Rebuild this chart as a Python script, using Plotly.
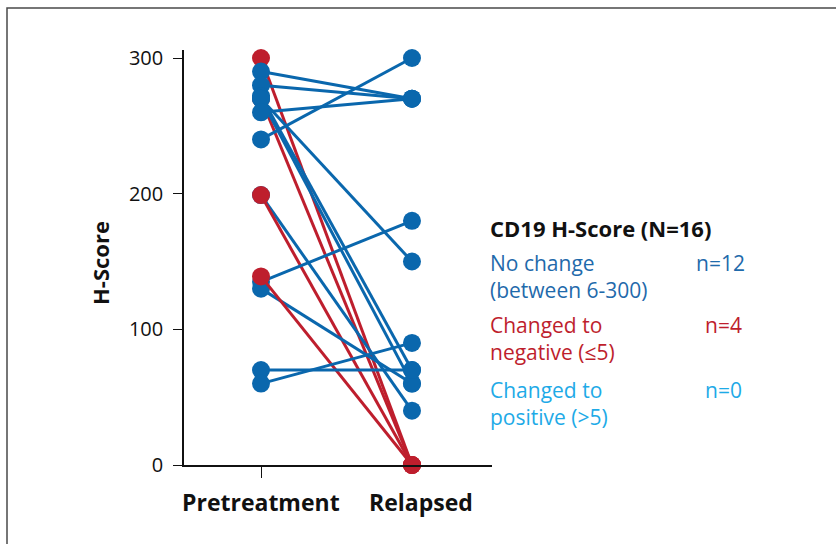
import plotly.graph_objects as go

# CD19 H-Score per patient, before treatment and at relapse
categories = ["Pretreatment", "Relapsed"]
pre_scores = [300, 270, 290, 280, 272, 270, 270, 260, 240, 199, 199, 135, 130, 139, 70, 60]
relapse_scores = [0, 0, 270, 270, 70, 150, 60, 270, 300, 40, 0, 180, 60, 0, 70, 90]
groups = ["neg", "neg", "nc", "nc", "nc", "nc", "nc", "nc", "nc", "nc", "neg", "nc", "nc", "neg", "nc", "nc"]
y_ticks = [0, 100, 200, 300]

legend_title = "CD19 H-Score (N=16)"
legend_rows = [
    ("No change", "(between 6-300)", "n=12", "nc"),
    ("Changed to", "negative (≤5)", "n=4", "neg"),
    ("Changed to", "positive (>5)", "n=0", "pos"),
]

line_colors = {"nc": "#0a67ad", "neg": "#be1e2d", "pos": "#1eaae7"}
text_colors = {"nc": "#1f6aab", "neg": "#be1e2d", "pos": "#1eaae7"}

FONT = "Open Sans"
W, H = 836, 544
L, R, T, B = 184, 344, 50, 79
PW, PH = W - L - R, H - T - B


def px(x):
    return (x - L) / PW


def py(y):
    return (H - B - y) / PH


fig = go.Figure()
for pre, rel, g in zip(pre_scores, relapse_scores, groups):
    fig.add_trace(go.Scatter(
        x=[0, 1], y=[pre, rel], mode="lines+markers",
        line=dict(color=line_colors[g], width=3),
        marker=dict(color=line_colors[g], size=18),
        cliponaxis=False, showlegend=False, hoverinfo="skip",
    ))

annotations = []
# category labels under the x axis
for i, (name, dx) in enumerate(zip(categories, [0, 9])):
    annotations.append(dict(
        x=i, xref="x", y=py(502), yref="paper", text=f"<b>{name}</b>",
        showarrow=False, xanchor="center", yanchor="middle", xshift=dx,
        font=dict(family=FONT, size=23, color="#111"),
    ))

# y axis title
annotations.append(dict(
    x=px(100), y=py(263), xref="paper", yref="paper", text="<b>H-Score</b>",
    textangle=-90, showarrow=False, xanchor="center", yanchor="middle",
    font=dict(family=FONT, size=22, color="#111"),
))

# legend block
annotations.append(dict(
    x=px(488), y=py(228), xref="paper", yref="paper", text=f"<b>{legend_title}</b>",
    showarrow=False, xanchor="left", yanchor="middle",
    font=dict(family=FONT, size=22, color="#111"),
))
row_tops = [263, 325, 390]
right_edges = [747, 744, 744]
for (l1, l2, n, g), ytop, xr in zip(legend_rows, row_tops, right_edges):
    f = dict(family=FONT, size=21, color=text_colors[g])
    annotations.append(dict(x=px(488), y=py(ytop), xref="paper", yref="paper", text=l1,
                            showarrow=False, xanchor="left", yanchor="middle", font=f))
    annotations.append(dict(x=px(488), y=py(ytop + 27), xref="paper", yref="paper", text=l2,
                            showarrow=False, xanchor="left", yanchor="middle", font=f))
    annotations.append(dict(x=px(xr), y=py(ytop), xref="paper", yref="paper", text=n,
                            showarrow=False, xanchor="right", yanchor="middle", font=f))

# outer frame
shapes = [dict(type="rect", xref="paper", yref="paper",
               x0=px(7), x1=px(W + 20), y0=py(H + 20), y1=py(8),
               line=dict(color="#4a4a4a", width=1.5), layer="below")]

fig.update_layout(
    width=W, height=H,
    margin=dict(l=L, r=R, t=T, b=B),
    paper_bgcolor="white", plot_bgcolor="white",
    annotations=annotations, shapes=shapes,
    xaxis=dict(
        range=[-0.51, 1.53], tickvals=[0], showticklabels=False,
        ticks="outside", ticklen=11, tickwidth=1.2, tickcolor="#111",
        showline=True, linecolor="#111", linewidth=1.5,
        showgrid=False, zeroline=False, fixedrange=True,
    ),
    yaxis=dict(
        range=[0, 305.9], tickvals=y_ticks, ticks="outside", ticklen=9,
        tickwidth=1.2, tickcolor="#111", ticklabelstandoff=6,
        tickfont=dict(family=FONT, size=20, color="#111"),
        showline=True, linecolor="#111", linewidth=1.5,
        showgrid=False, zeroline=False, fixedrange=True,
    ),
)

fig.write_html("out.html")
